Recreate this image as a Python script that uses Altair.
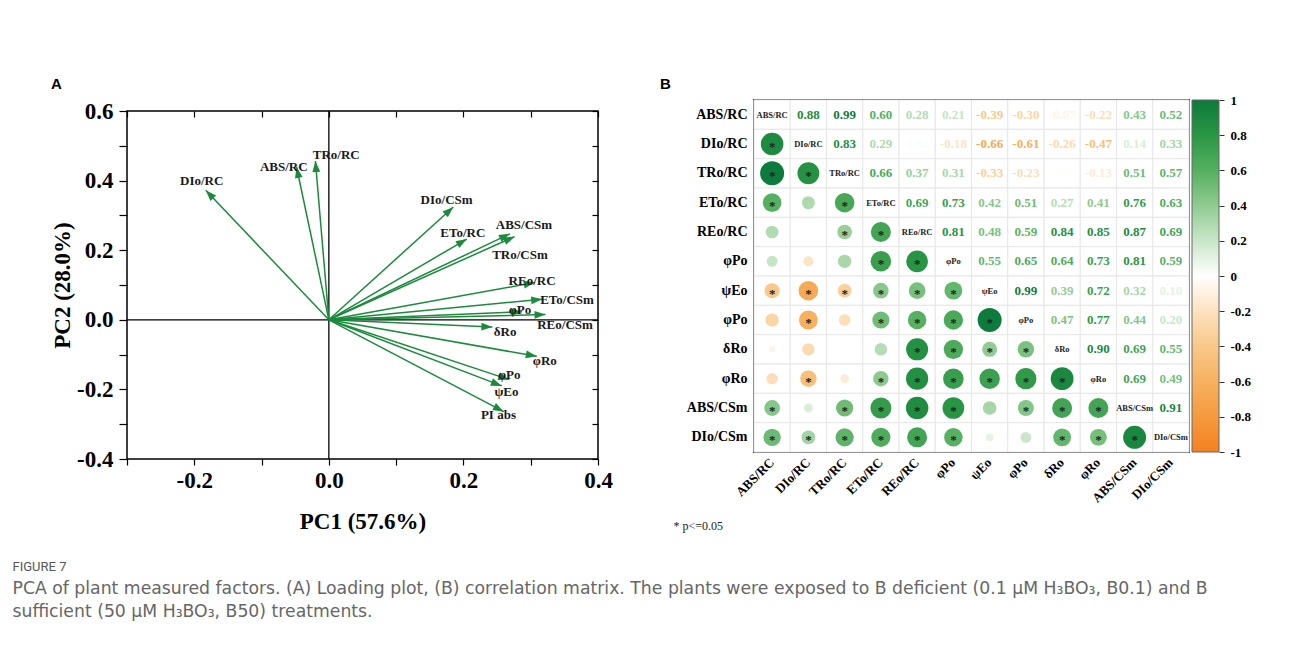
import json
import math
import altair as alt
import pandas as pd

SERIF = "Liberation Serif"
GREEN = "#1b8a3c"

# ---------------- Panel A: PCA loadings ----------------
a_names = ["DIo/RC", "ABS/RC", "TRo/RC", "DIo/CSm", "ETo/RC", "ABS/CSm", "TRo/CSm",
           "REo/RC", "ETo/CSm", "φPo", "REo/CSm", "δRo", "φRo", "φPo", "ψEo", "PI abs"]
a_pc1 = [-0.183, -0.048, -0.020, 0.185, 0.205, 0.269, 0.276,
         0.306, 0.317, 0.287, 0.322, 0.243, 0.309, 0.268, 0.257, 0.260]
a_pc2 = [0.372, 0.439, 0.456, 0.324, 0.232, 0.247, 0.239,
         0.107, 0.059, 0.023, 0.015, -0.021, -0.105, -0.172, -0.190, -0.264]
a_lx = [-0.189, -0.067, 0.011, 0.175, 0.199, 0.290, 0.284,
        0.302, 0.354, 0.284, 0.351, 0.262, 0.321, 0.268, 0.264, 0.252]
a_ly = [0.398, 0.438, 0.475, 0.343, 0.249, 0.273, 0.187,
        0.112, 0.056, 0.028, -0.015, -0.036, -0.119, -0.160, -0.207, -0.274]
x_ticks = [-0.3, -0.2, -0.1, 0.0, 0.1, 0.2, 0.3, 0.4]
y_ticks = [-0.4, -0.3, -0.2, -0.1, 0.0, 0.1, 0.2, 0.3, 0.4, 0.5, 0.6]
x_dom = [-0.3, 0.4]
y_dom = [-0.4, 0.6]

A_W, A_H = 471, 348
sx = A_W / (x_dom[1] - x_dom[0])
sy = A_H / (y_dom[1] - y_dom[0])
df_a = pd.DataFrame({"name": a_names, "x": a_pc1, "y": a_pc2, "lx": a_lx, "ly": a_ly})
df_a["ang"] = [math.degrees(math.atan2(x * sx, y * sy)) % 360 for x, y in zip(a_pc1, a_pc2)]
df_zero = pd.DataFrame({"zero": [0.0]})

label_even = ("abs(round(datum.value*10)) % 2 == 0 ? "
              "(datum.value < -0.001 ? '-' : '') + format(abs(datum.value), '.1f') : ''")
xs = alt.Scale(domain=x_dom, nice=False, zero=False)
ys = alt.Scale(domain=y_dom, nice=False, zero=False)
common = dict(domain=False, grid=False, tickColor="black", tickWidth=1.2,
              labelFlush=False, labelOverlap=False)
ax_bottom = alt.Axis(orient="bottom", values=x_ticks, labelExpr=label_even, tickSize=6,
                     labelFont=SERIF, labelFontSize=23, labelFontWeight="bold",
                     labelColor="black", labelPadding=4,
                     title="PC1 (57.6%)", titleFont=SERIF, titleFontSize=23,
                     titleFontWeight="bold", titleColor="black", titlePadding=18, **common)
ax_left = alt.Axis(orient="left", values=y_ticks, labelExpr=label_even, tickSize=8,
                   labelFont=SERIF, labelFontSize=23, labelFontWeight="bold",
                   labelColor="black", labelPadding=6,
                   title="PC2 (28.0%)", titleFont=SERIF, titleFontSize=23,
                   titleFontWeight="bold", titleColor="black", titlePadding=2, **common)
ax_top = alt.Axis(orient="top", values=x_ticks, labels=False, title=None, tickSize=6,
                  offset=-6, **common)
ax_right = alt.Axis(orient="right", values=y_ticks, labels=False, title=None, tickSize=6,
                    offset=-6, **common)

HEAD = "M0,0L-0.36,1L0.36,1Z"

vline = alt.Chart(df_zero).mark_rule(color="black", strokeWidth=1.3).encode(
    x=alt.X("zero:Q", scale=xs, axis=None))
hline = alt.Chart(df_zero).mark_rule(color="black", strokeWidth=1.3).encode(
    y=alt.Y("zero:Q", scale=ys, axis=None))
arrows = alt.Chart(df_a).mark_rule(color=GREEN, strokeWidth=1.5).encode(
    x=alt.X("x:Q", scale=xs, axis=ax_bottom),
    y=alt.Y("y:Q", scale=ys, axis=ax_left),
    x2=alt.datum(0), y2=alt.datum(0))
heads = alt.Chart(df_a).mark_point(shape=HEAD, filled=True, size=480, color=GREEN,
                                   opacity=1, strokeWidth=0).encode(
    x=alt.X("x:Q", axis=None), y=alt.Y("y:Q", axis=None),
    angle=alt.Angle("ang:Q", scale=None))
labels = alt.Chart(df_a).mark_text(font=SERIF, fontSize=13, fontWeight="bold",
                                   color="#1a1a1a").encode(
    x=alt.X("lx:Q", axis=None), y=alt.Y("ly:Q", axis=None), text="name:N")
mirror = alt.Chart(df_a).mark_point(opacity=0).encode(
    x=alt.X("x:Q", axis=ax_top), y=alt.Y("y:Q", axis=ax_right))

panelA = alt.layer(vline, hline, arrows, heads, labels, mirror).resolve_axis(
    x="independent", y="independent").properties(
    width=A_W, height=A_H,
    view=alt.ViewBackground(stroke="black", strokeWidth=1.5))

# tiny invisible strip carrying the "A" panel letter above panel A
spacerA = alt.Chart(df_zero).mark_rule(strokeWidth=0, opacity=0).encode(
    x=alt.value(0), x2=alt.value(1), y=alt.value(0)).properties(
    width=1, height=1,
    view=alt.ViewBackground(stroke="transparent"),
    title=alt.Title("A", anchor="start", frame="bounds", font="Liberation Sans", fontSize=15,
                    fontWeight="bold", color="black", offset=8, dx=-76))
colA = alt.vconcat(spacerA, panelA, spacing=-3)

# ---------------- Panel B: correlation matrix ----------------
b_names = ["ABS/RC", "DIo/RC", "TRo/RC", "ETo/RC", "REo/RC", "φPo", "ψEo", "φPo",
           "δRo", "φRo", "ABS/CSm", "DIo/CSm"]
b_upper = [
    [0.88, 0.99, 0.60, 0.28, 0.21, -0.39, -0.30, -0.07, -0.22, 0.43, 0.52],
    [0.83, 0.29, 0.02, -0.18, -0.66, -0.61, -0.26, -0.47, 0.14, 0.33],
    [0.66, 0.37, 0.31, -0.33, -0.23, -0.01, -0.13, 0.51, 0.57],
    [0.69, 0.73, 0.42, 0.51, 0.27, 0.41, 0.76, 0.63],
    [0.81, 0.48, 0.59, 0.84, 0.85, 0.87, 0.69],
    [0.55, 0.65, 0.64, 0.73, 0.81, 0.59],
    [0.99, 0.39, 0.72, 0.32, 0.10],
    [0.47, 0.77, 0.44, 0.20],
    [0.90, 0.69, 0.55],
    [0.69, 0.49],
    [0.91],
]
sig_level = 0.33  # |r| at or above which the picture marks p<=0.05
c_dom = [-1, -0.8, -0.6, -0.4, -0.2, 0, 0.2, 0.4, 0.6, 0.8, 1]
c_rng = ["#f38120", "#f59a3e", "#f7b15f", "#f9c889", "#fce2bf", "#ffffff",
         "#c9e6c9", "#8fcb91", "#55b061", "#2a9644", "#0b7a3a"]

n = len(b_names)
R = [[1.0] * n for _ in range(n)]
for i, row in enumerate(b_upper):
    for k, v in enumerate(row):
        j = i + 1 + k
        R[i][j] = v
        R[j][i] = v
rows = []
for i in range(n):
    for j in range(n):
        r = R[i][j]
        kind = "diag" if i == j else ("upper" if j > i else "lower")
        rows.append({"ri": i, "ci": j, "r": r, "kind": kind, "name": b_names[i],
                     "lbl": f"{r:.2f}", "s": 580 * abs(r),
                     "star": int(kind == "lower" and abs(r) >= sig_level)})
df_b = pd.DataFrame(rows)

B_W, B_H = 435, 352
names_js = json.dumps(b_names, ensure_ascii=False)
cscale = alt.Scale(domain=c_dom, range=c_rng, interpolate="rgb")
bx = alt.X("ci:O", scale=alt.Scale(domain=list(range(n)), paddingInner=0, paddingOuter=0),
           axis=alt.Axis(labelExpr=f"{names_js}[datum.value]", labelAngle=315, labelAlign="right",
                         labelBaseline="middle", labelFont=SERIF, labelFontWeight="bold",
                         labelFontSize=13, labelColor="black", labelPadding=8, ticks=False,
                         domain=False, grid=False, title="* p<=0.05", titleFont=SERIF,
                         titleFontWeight="normal", titleFontSize=12, titleColor="#222",
                         titleX=-81, titleY=73, titleAlign="left", titleBaseline="middle"))
by = alt.Y("ri:O", scale=alt.Scale(domain=list(range(n)), paddingInner=0, paddingOuter=0),
           axis=alt.Axis(labelExpr=f"{names_js}[datum.value]", labelFont=SERIF,
                         labelFontWeight="bold", labelFontSize=14, labelColor="black",
                         labelPadding=7, ticks=False, domain=False, grid=False, title=None))
base_b = alt.Chart(df_b).encode(x=bx, y=by)
cells = base_b.mark_rect(fill="white", stroke="#e6e6e6", strokeWidth=1)
circles = base_b.transform_filter("datum.kind == 'lower'").mark_circle(opacity=1).encode(
    size=alt.Size("s:Q", scale=None), color=alt.Color("r:Q", scale=cscale, legend=None))
stars = base_b.transform_filter("datum.star == 1").mark_text(
    text="*", font=SERIF, fontSize=13, fontWeight="bold", color="#222", dy=3)
upper = base_b.transform_filter("datum.kind == 'upper'").mark_text(
    font=SERIF, fontSize=13, fontWeight="bold").encode(
    text="lbl:N", color=alt.Color("r:Q", scale=cscale, legend=None))
diag = base_b.transform_filter("datum.kind == 'diag'").mark_text(
    font=SERIF, fontSize=8.5, fontWeight="bold", color="#222").encode(text="name:N")

panelB = alt.layer(cells, circles, stars, upper, diag).properties(
    width=B_W, height=B_H,
    view=alt.ViewBackground(stroke="#444", strokeWidth=2),
    title=alt.Title("B", anchor="start", frame="bounds", font="Liberation Sans", fontSize=15,
                    fontWeight="bold", color="black", offset=8, dx=-13))

# ---------------- colour bar ----------------
df_cb = pd.DataFrame({"lo": [c_dom[0]], "hi": [c_dom[-1]]})
grad = alt.LinearGradient(
    gradient="linear", x1=0, x2=0, y1=1, y2=0,
    stops=[alt.GradientStop(offset=(v - c_dom[0]) / (c_dom[-1] - c_dom[0]), color=c)
           for v, c in zip(c_dom, c_rng)])
cb_axis = alt.Axis(orient="right", values=c_dom,
                   labelExpr="(datum.value < -0.001 ? '-' : '') + format(abs(datum.value), '.1~f')",
                   tickSize=5, tickColor="#333", domain=False, grid=False, labelFont=SERIF,
                   labelFontSize=13, labelFontWeight="bold", labelColor="black", labelPadding=6,
                   title=None, labelFlush=False, labelOverlap=False)
colorbar = alt.Chart(df_cb).mark_rect(fill=grad, stroke="#666", strokeWidth=1).encode(
    y=alt.Y("lo:Q", scale=alt.Scale(domain=[c_dom[0], c_dom[-1]], nice=False), axis=cb_axis),
    y2="hi:Q", x=alt.value(-4), x2=alt.value(23)).properties(
    width=23, height=B_H,
    view=alt.ViewBackground(stroke="transparent"))

# ---------------- figure ----------------
cap1 = ("PCA of plant measured factors. (A) Loading plot, (B) correlation matrix. The plants were "
        "exposed to B deficient (0.1 μM H₃BO₃, B0.1) and B")
cap2 = "sufficient (50 μM H₃BO₃, B50) treatments."

inner = alt.hconcat(panelB, colorbar, spacing=0)
chart = alt.hconcat(colA, inner, spacing=45).properties(
    padding={"left": 4, "top": 67, "right": 5, "bottom": 5},
    background="white",
    title=alt.Title("FIGURE 7", subtitle=[cap1, cap2], orient="bottom", anchor="start",
                    frame="bounds", dx=-38, offset=27, font="Roboto", fontSize=13,
                    fontWeight="normal", color="#555", subtitleFont="DejaVu Sans",
                    subtitleFontSize=17.25, subtitleFontWeight="normal", subtitleColor="#666",
                    subtitleLineHeight=23, subtitlePadding=6))

chart.save("out.html", embed_options={"renderer": "svg", "actions": False})
